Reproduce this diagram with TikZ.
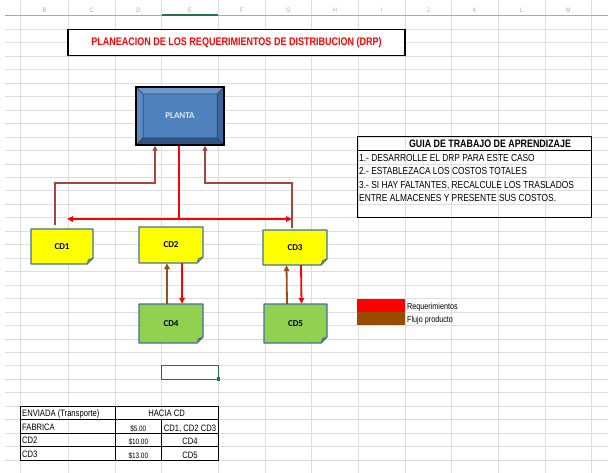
\documentclass[tikz,border=0pt]{standalone}
\usepackage{fontspec}
\setmainfont{Liberation Sans}
\newfontfamily\nar[FakeStretch=0.82]{Liberation Sans}
\newfontfamily\calfont{Carlito}
\usetikzlibrary{arrows.meta}
\definecolor{gridgray}{HTML}{DEDEDE}
\definecolor{hdrgray}{HTML}{A8A8A8}
\definecolor{selgreen}{HTML}{217346}
\definecolor{cdborder}{HTML}{41719C}
\definecolor{cdyellow}{HTML}{FFFF00}
\definecolor{cdgreen}{HTML}{92D050}
\definecolor{plface}{HTML}{4F81BD}
\definecolor{pltop}{HTML}{6F98CC}
\definecolor{plleft}{HTML}{5B8AC4}
\definecolor{plright}{HTML}{3A679E}
\definecolor{plbottom}{HTML}{2D5588}
\definecolor{pltext}{HTML}{DCE6F2}
\definecolor{redbrown}{HTML}{A8443E}
\definecolor{prodbrown}{HTML}{94501C}
\definecolor{legbrown}{HTML}{994C00}
\newcommand{\foldnode}[7]{%
  \path[fill=#6, draw=cdborder, line width=1.1pt, line join=round]
    ({#2-#4/2},{#3-#5/2}) -- ({#2+#4/2},{#3-#5/2}) -- ({#2+#4/2},{#3+#5/2-6}) -- ({#2+#4/2-6},{#3+#5/2}) -- ({#2-#4/2},{#3+#5/2}) -- cycle;
  \path[fill=#6!65!black, draw=cdborder, line width=0.7pt, line join=round]
    ({#2+#4/2},{#3+#5/2-6}) -- ({#2+#4/2-6},{#3+#5/2}) -- ({#2+#4/2-4.5},{#3+#5/2-4.5}) -- cycle;
  \node[cdlabel, minimum width=#4pt, minimum height=#5pt] (#1) at (#2,#3) {#7};
}
\tikzset{
  gridc/.style={draw=gridgray, line width=0.6pt},
  hdr/.style={text=hdrgray, font=\nar\fontsize{6.5}{7}\selectfont, inner sep=0pt},
  cdlabel/.style={draw=none, inner sep=0pt, font=\calfont\bfseries\fontsize{9}{10}\selectfont},
  redln/.style={draw=red, line width=1.8pt},
  redarr/.style={redln, -{Triangle[length=6pt,width=5.5pt]}},
  rbarr/.style={draw=redbrown, line width=1.6pt, -{Triangle[length=5pt,width=5pt]}},
  prodarr/.style={draw=prodbrown, line width=1.8pt, -{Triangle[length=6pt,width=5.5pt]}},
  guidetxt/.style={anchor=base west, inner sep=0pt, font=\nar\fontsize{10.2}{11}\selectfont},
  tabtxt/.style={inner sep=0pt, font=\nar\fontsize{9.3}{10}\selectfont},
  legtxt/.style={anchor=base west, inner sep=0pt, font=\nar\fontsize{8.8}{9}\selectfont},
  tabline/.style={draw=black, line width=0.9pt}
}
\begin{document}
\begin{tikzpicture}[x=1pt,y=-1pt]
\path[use as bounding box, fill=white] (0,0) rectangle (608,473);
% grid
\foreach \k in {1,...,34} \draw[gridc] (5,{15.8+13.46*\k}) -- (608,{15.8+13.46*\k});
\foreach \x in {20.7,68.3,115,161.7,218.3,265,311.7,358.3,405,451.7,498.3,545,591.7}
  \draw[gridc] (\x,0) -- (\x,473);
\draw[draw=hdrgray, line width=0.7pt] (5,15.8) -- (608,15.8);
\draw[draw=selgreen, line width=1.6pt] (161.7,15.2) -- (218.3,15.2);
\foreach \x/\l in {44.5/B,91.7/C,138.4/D,190/E,241.7/F,288.4/G,335/H,381.7/I,428.4/J,475/K,521.7/L,568.4/M}
  \node[hdr] (hd\l) at (\x,10.5) {\l};

% title
\node[draw=black, line width=1.6pt, fill=white, minimum width=337pt, minimum height=26pt,
      text=red, font=\nar\bfseries\fontsize{11}{12}\selectfont] (title) at (236.5,42.5)
      {PLANEACION DE LOS REQUERIMIENTOS DE DISTRIBUCION (DRP)};

% planta (bevel)
\fill[pltop] (136,87) -- (224,87) -- (217,94) -- (143,94) -- cycle;
\fill[plright] (224,87) -- (224,145) -- (217,138) -- (217,94) -- cycle;
\fill[plbottom] (224,145) -- (136,145) -- (143,138) -- (217,138) -- cycle;
\fill[plleft] (136,145) -- (136,87) -- (143,94) -- (143,138) -- cycle;
\fill[plface] (143,94) rectangle (217,138);
\draw[black!80, line width=0.5pt] (143,94) rectangle (217,138)
  (136,87) -- (143,94) (224,87) -- (217,94) (224,145) -- (217,138) (136,145) -- (143,138);
\node[draw=black, line width=1.5pt, minimum width=88pt, minimum height=58pt, text=pltext,
      font=\calfont\bfseries\fontsize{9}{10}\selectfont] (planta) at (180,116) {PLANTA};

% guide box
\node[draw=black, line width=1pt, minimum width=234pt, minimum height=80.8pt, inner sep=0pt] (guide) at (474,177.3) {};
\draw[black, line width=1pt] (357,150.4) -- (591,150.4);
\node[inner sep=0pt, font=\nar\bfseries\fontsize{10.8}{12}\selectfont] (guidehd) at (490,144) {GUIA DE TRABAJO DE APRENDIZAJE};
\node[guidetxt] (g1) at (359,161.3) {1.- DESARROLLE EL DRP PARA ESTE CASO};
\node[guidetxt] (g2) at (359,174.8) {2.- ESTABLEZACA LOS COSTOS TOTALES};
\node[guidetxt] (g3) at (359,188.2) {3.- SI HAY FALTANTES, RECALCULE LOS TRASLADOS};
\node[guidetxt] (g4) at (359,201.7) {ENTRE ALMACENES Y PRESENTE SUS COSTOS.};

% CD boxes
\foldnode{cd1}{62}{246.5}{62}{35}{cdyellow}{CD1}
\foldnode{cd2}{171}{245}{64}{36}{cdyellow}{CD2}
\foldnode{cd3}{295}{247.5}{64}{35}{cdyellow}{CD3}
\foldnode{cd4}{171}{323.5}{64}{39}{cdgreen}{CD4}
\foldnode{cd5}{295.5}{323.5}{63}{39}{cdgreen}{CD5}

% connectors
\coordinate (hub) at (179,219);
\coordinate (hl) at (67,219);
\coordinate (hr) at (292,219);
\coordinate (j1) at (155,183);
\coordinate (j2) at (205,183);
\draw[redln] ([xshift=-1pt]planta.south) -- (hub);
\draw[redln, {Triangle[length=6pt,width=5.5pt]}-{Triangle[length=6pt,width=5.5pt]}] (hl) -- (hr);
\draw[rbarr] ([xshift=-7pt,yshift=4pt]cd1.north) |- (j1) -- (j1 |- planta.south);
\draw[rbarr] ([xshift=-3pt,yshift=2pt]cd3.north) |- (j2) -- (j2 |- planta.south);
\draw[prodarr] ([xshift=-4pt]cd4.north) -- ([xshift=-4pt]cd2.south);
\draw[redarr] ([xshift=11pt]cd2.south) -- ([xshift=11pt]cd4.north);
\draw[prodarr] ([xshift=-8.5pt]cd5.north) -- ([xshift=-8.5pt]cd3.south);
\draw[redarr] ([xshift=6pt]cd3.south) -- ([xshift=6pt]cd5.north);

% legend
\node[fill=red, minimum width=47.5pt, minimum height=13.4pt, inner sep=0pt] (legr) at (381.2,305.2) {};
\node[fill=legbrown, minimum width=47.5pt, minimum height=13.4pt, inner sep=0pt] (legb) at (381.2,318.6) {};
\node[legtxt] (legrt) at (407,309.3) {Requerimientos};
\node[legtxt] (legbt) at (407,322.8) {Flujo producto};

% selected cell
\node[draw=selgreen, line width=1.3pt, minimum width=56.6pt, minimum height=13.4pt, inner sep=0pt] (sel) at (190,372.5) {};
\node[fill=selgreen, minimum size=3.5pt, inner sep=0pt] (selh) at (218.3,379.2) {};

% table
\node[tabline, minimum width=197.6pt, minimum height=53.9pt, inner sep=0pt] (tab) at (119.5,433.05) {};
\draw[tabline] (20.7,419.6) -- (218.3,419.6) (20.7,433.1) -- (218.3,433.1) (20.7,446.5) -- (218.3,446.5)
  (115,406.1) -- (115,460) (161.7,419.6) -- (161.7,460);
\node[tabtxt, anchor=base west] (t11) at (22,416.5) {ENVIADA (Transporte)};
\node[tabtxt, anchor=base] (t12) at (166.6,416.5) {HACIA CD};
\node[tabtxt, anchor=base west] (t21) at (22,430) {FABRICA};
\node[tabtxt, anchor=base, font=\nar\fontsize{7.8}{8}\selectfont] (t22) at (138.3,431) {\$5.00};
\node[tabtxt, anchor=base] (t23) at (190,431) {CD1, CD2 CD3};
\node[tabtxt, anchor=base west] (t31) at (22,443.5) {CD2};
\node[tabtxt, anchor=base, font=\nar\fontsize{7.8}{8}\selectfont] (t32) at (138.3,444.5) {\$10.00};
\node[tabtxt, anchor=base] (t33) at (190,444.5) {CD4};
\node[tabtxt, anchor=base west] (t41) at (22,457) {CD3};
\node[tabtxt, anchor=base, font=\nar\fontsize{7.8}{8}\selectfont] (t42) at (138.3,458) {\$13.00};
\node[tabtxt, anchor=base] (t43) at (190,458) {CD5};
\end{tikzpicture}
\end{document}
